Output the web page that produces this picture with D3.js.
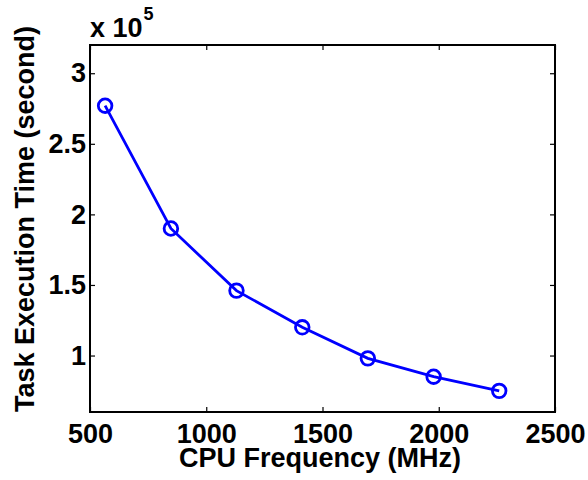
<!DOCTYPE html>
<html>
<head>
<meta charset="utf-8">
<script src="https://cdn.jsdelivr.net/npm/d3@7"></script>
<style>
  body { margin: 0; background: #fff; }
  text { font-family: "Liberation Sans", Arial, sans-serif; font-weight: bold; fill: #000; }
</style>
</head>
<body>
<div id="chart"></div>
<script>
// data
const freq = [565, 848, 1130, 1413, 1695, 1978, 2260];   // MHz
const execTime = [2.77, 1.90, 1.46, 1.20, 0.98, 0.85, 0.75]; // x 10^5 s
const xTicks = [500, 1000, 1500, 2000, 2500];
const yTicks = [1, 1.5, 2, 2.5, 3];

const width = 588, height = 480;
const margin = {left: 90, top: 45, right: 33, bottom: 68};
const plotW = width - margin.left - margin.right,
    plotH = height - margin.top - margin.bottom;
const fontSize = 27;

const svg = d3.select('#chart')
    .append('svg')
    .attr('width', width)
    .attr('height', height);

const x = d3.scaleLinear().domain([500, 2500]).range([0, plotW]);
const y = d3.scaleLinear().domain([0.6, 3.2]).range([plotH, 0]);

const g = svg.append('g')
    .attr('transform', `translate(${margin.left}, ${margin.top})`);

// inward ticks, matlab style
const tickLen = 5;
g.append('g').attr('transform', `translate(0, ${plotH})`)
    .call(d3.axisBottom(x).tickValues(xTicks).tickSizeInner(-tickLen).tickSizeOuter(0).tickPadding(12)
        .tickFormat(d3.format('d')));
g.append('g')
    .call(d3.axisTop(x).tickValues(xTicks).tickSizeInner(-tickLen).tickSizeOuter(0).tickFormat(''));
g.append('g')
    .call(d3.axisLeft(y).tickValues(yTicks).tickSizeInner(-tickLen).tickSizeOuter(0).tickPadding(4)
        .tickFormat(d3.format('')));
g.append('g').attr('transform', `translate(${plotW}, 0)`)
    .call(d3.axisRight(y).tickValues(yTicks).tickSizeInner(-tickLen).tickSizeOuter(0).tickFormat(''));

g.selectAll('.domain').remove();
g.selectAll('.tick line').attr('stroke', '#000').attr('stroke-width', 1.2);
g.selectAll('.tick text').style('font-size', fontSize + 'px');

// box
g.append('rect')
    .attr('width', plotW)
    .attr('height', plotH)
    .attr('fill', 'none')
    .attr('stroke', '#000')
    .attr('stroke-width', 2);

const pts = freq.map((f, i) => ({f: f, t: execTime[i]}));

g.append('path')
    .datum(pts)
    .attr('fill', 'none')
    .attr('stroke', '#0000ff')
    .attr('stroke-width', 2.8)
    .attr('d', d3.line().x(d => x(d.f)).y(d => y(d.t)));

g.selectAll('circle').data(pts)
    .enter().append('circle')
    .attr('cx', d => x(d.f))
    .attr('cy', d => y(d.t))
    .attr('r', 6.8)
    .attr('fill', 'none')
    .attr('stroke', '#0000ff')
    .attr('stroke-width', 2.8);

// exponent label
const expo = svg.append('text')
    .attr('x', margin.left)
    .attr('y', 37)
    .style('font-size', fontSize + 'px');
expo.append('tspan').text('x 10');
expo.append('tspan').attr('dx', 1).attr('dy', -17).style('font-size', '18px').text('5');

// axis labels
svg.append('text')
    .attr('x', 320)
    .attr('y', 467)
    .attr('text-anchor', 'middle')
    .style('font-size', fontSize + 'px')
    .text('CPU Frequency (MHz)');

svg.append('text')
    .attr('transform', `translate(34, 219) rotate(-90)`)
    .attr('text-anchor', 'middle')
    .style('font-size', fontSize + 'px')
    .text('Task Execution Time (second)');
</script>
</body>
</html>
